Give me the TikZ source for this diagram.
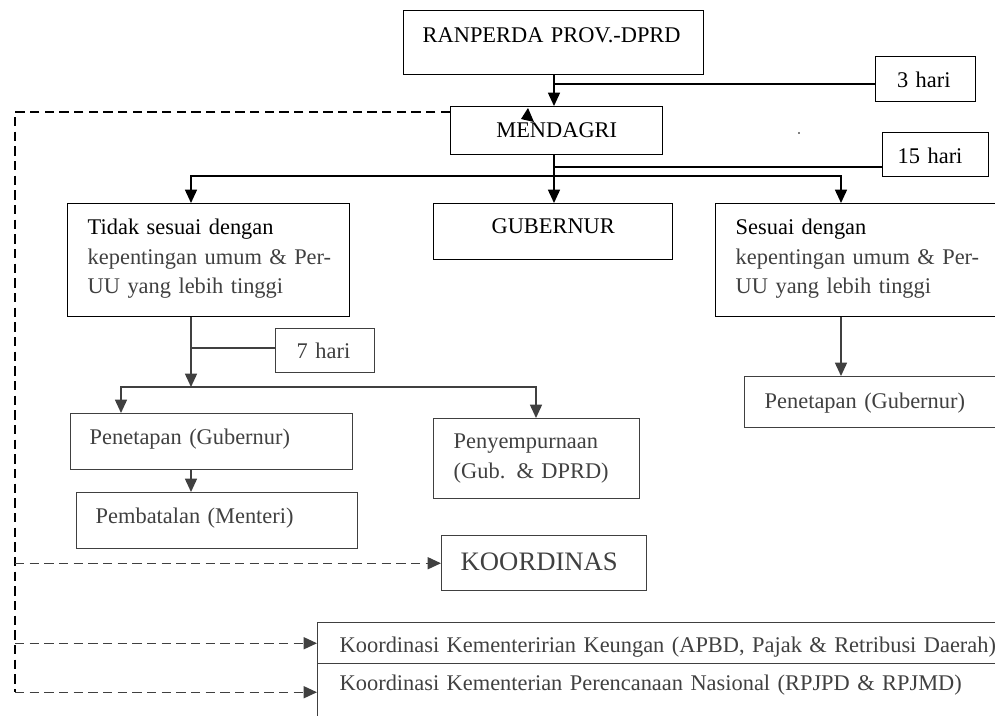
\documentclass[tikz,border=0pt]{standalone}
\usepackage{fontspec}
\setmainfont{Liberation Serif}
\usetikzlibrary{arrows.meta}
\definecolor{ink}{HTML}{404040}

\begin{document}
\begin{tikzpicture}[x=0.75pt, y=-0.75pt, line width=1.1pt, >={Triangle[length=10pt,width=9pt]},
  box/.style = {draw, anchor=north west, inner ysep=0pt, align=left, font=\fontsize{16.8}{22}\selectfont},
  low/.style = {draw=ink, text=ink},
  dashline/.style = {dash pattern=on 7pt off 4pt}]

\useasboundingbox (0,0) rectangle (995,715);

\node[box, inner xsep=14.25pt, text width=196.5pt, text height=24pt, text depth=24pt] (1) at (403,10) {\mbox{RANPERDA PROV.-DPRD}};
\node[box, inner xsep=16pt, text width=43pt, text height=23.25pt, text depth=10.5pt] (2) at (875,56) {\mbox{3 hari}};
\node[box, align=center, inner xsep=0pt, text width=159pt, text height=23.25pt, text depth=12.75pt] (3) at (450,106) {MENDAGRI};
\node[box, inner xsep=11.25pt, text width=57pt, text height=23.25pt, text depth=9.75pt] (4) at (882,132) {\mbox{15 hari}};
\node[box, inner xsep=15pt, text width=181.5pt, text height=23.25pt, text depth=61.5pt] (5) at (67,203)
  {\mbox{Tidak sesuai dengan}\\\textcolor{ink}{\mbox{kepentingan umum \& Per-}}\\\textcolor{ink}{\mbox{UU yang lebih tinggi}}};
\node[box, align=center, inner xsep=0pt, text width=179.25pt, text height=22.5pt, text depth=19.5pt] (6) at (433,203) {GUBERNUR};
\node[box, inner xsep=15pt, text width=183.75pt, text height=23.25pt, text depth=61.5pt] (7) at (715,203)
  {\mbox{Sesuai dengan}\\\textcolor{ink}{\mbox{kepentingan umum \& Per-}}\\\textcolor{ink}{\mbox{UU yang lebih tinggi}}};
\node[box, low, inner xsep=15.75pt, text width=42.75pt, text height=22.5pt, text depth=10.5pt] (8) at (275,328) {\mbox{7 hari}};
\node[box, low, inner xsep=14.25pt, text width=183pt, text height=23.25pt, text depth=18.75pt] (9) at (70,413) {\mbox{Penetapan (Gubernur)}};
\node[box, low, inner xsep=15pt, text width=124.5pt, text height=22.5pt, text depth=37.5pt] (10) at (433,418) {\mbox{Penyempurnaan}\\\mbox{(Gub. \& DPRD)}};
\node[box, low, inner xsep=14.25pt, text width=182.25pt, text height=23.25pt, text depth=18.75pt] (11) at (76,492) {\mbox{Pembatalan (Menteri)}};
\node[box, low, inner xsep=15pt, text width=162pt, text height=24pt, text depth=14.25pt] (12) at (744,376) {\mbox{Penetapan (Gubernur)}};
\node[box, low, font=\fontsize{20}{24}\selectfont, inner xsep=14.25pt, text width=125.25pt, text height=26.25pt, text depth=15pt] (13) at (441,535) {KOORDINAS};
\node[box, low, inner xsep=16.5pt, text width=520pt, text height=22.5pt, text depth=8.25pt] (14) at (317,622)
  {\mbox{Koordinasi Kementeririan Keungan (APBD, Pajak \& Retribusi Daerah)}};
\node[box, low, inner xsep=16.5pt, text width=520pt, text height=20.25pt, text depth=22.5pt] (15) at (317,663)
  {\mbox{Koordinasi Kementerian Perencanaan Nasional (RPJPD \& RPJMD)}};

\coordinate (a) at (554,84);
\coordinate (b) at (554,167);
\coordinate (c) at (554,176);
\coordinate (cl) at (191,176);
\coordinate (cr) at (841,176);
\coordinate (d) at (191,348);
\coordinate (e) at (191,387);
\coordinate (el) at (121,387);
\coordinate (er) at (536,387);
\coordinate (f) at (15,112);

\draw[->] (1.south -| a) -- (3.north -| a);
\draw (a) -- (2.west |- a);
\draw (3.south -| c) -- (c);
\draw[->] (c) -- (6.north -| c);
\draw (b) -- (4.west |- b);
\draw[<->] (5.north -| cl) -- (cl) -- (cr) -- (7.north -| cr);

\draw[ink, ->] (5.south -| d) -- (e);
\draw[ink] (d) -- (8.west |- d);
\draw[ink, <->] (9.north -| el) -- (el) -- (er) -- (10.north -| er);
\draw[ink, ->] (9.south -| d) -- (11.north -| d);
\draw[ink, ->] (7.south -| cr) -- (12.north -| cr);

\draw[dashline] (3.west |- f) -- (f) -- (f |- 15.west);
\draw[dashline, ink, ->] (f |- 13.west) -- (13.west);
\draw[dashline, ink, ->] (f |- 14.west) -- (14.west);
\draw[dashline, ink, ->] (f |- 15.west) -- (15.west);

\fill (528,108) -- (521,119) -- (534,122) -- cycle;
\fill (799,133) circle (0.6pt);

\end{tikzpicture}
\end{document}
